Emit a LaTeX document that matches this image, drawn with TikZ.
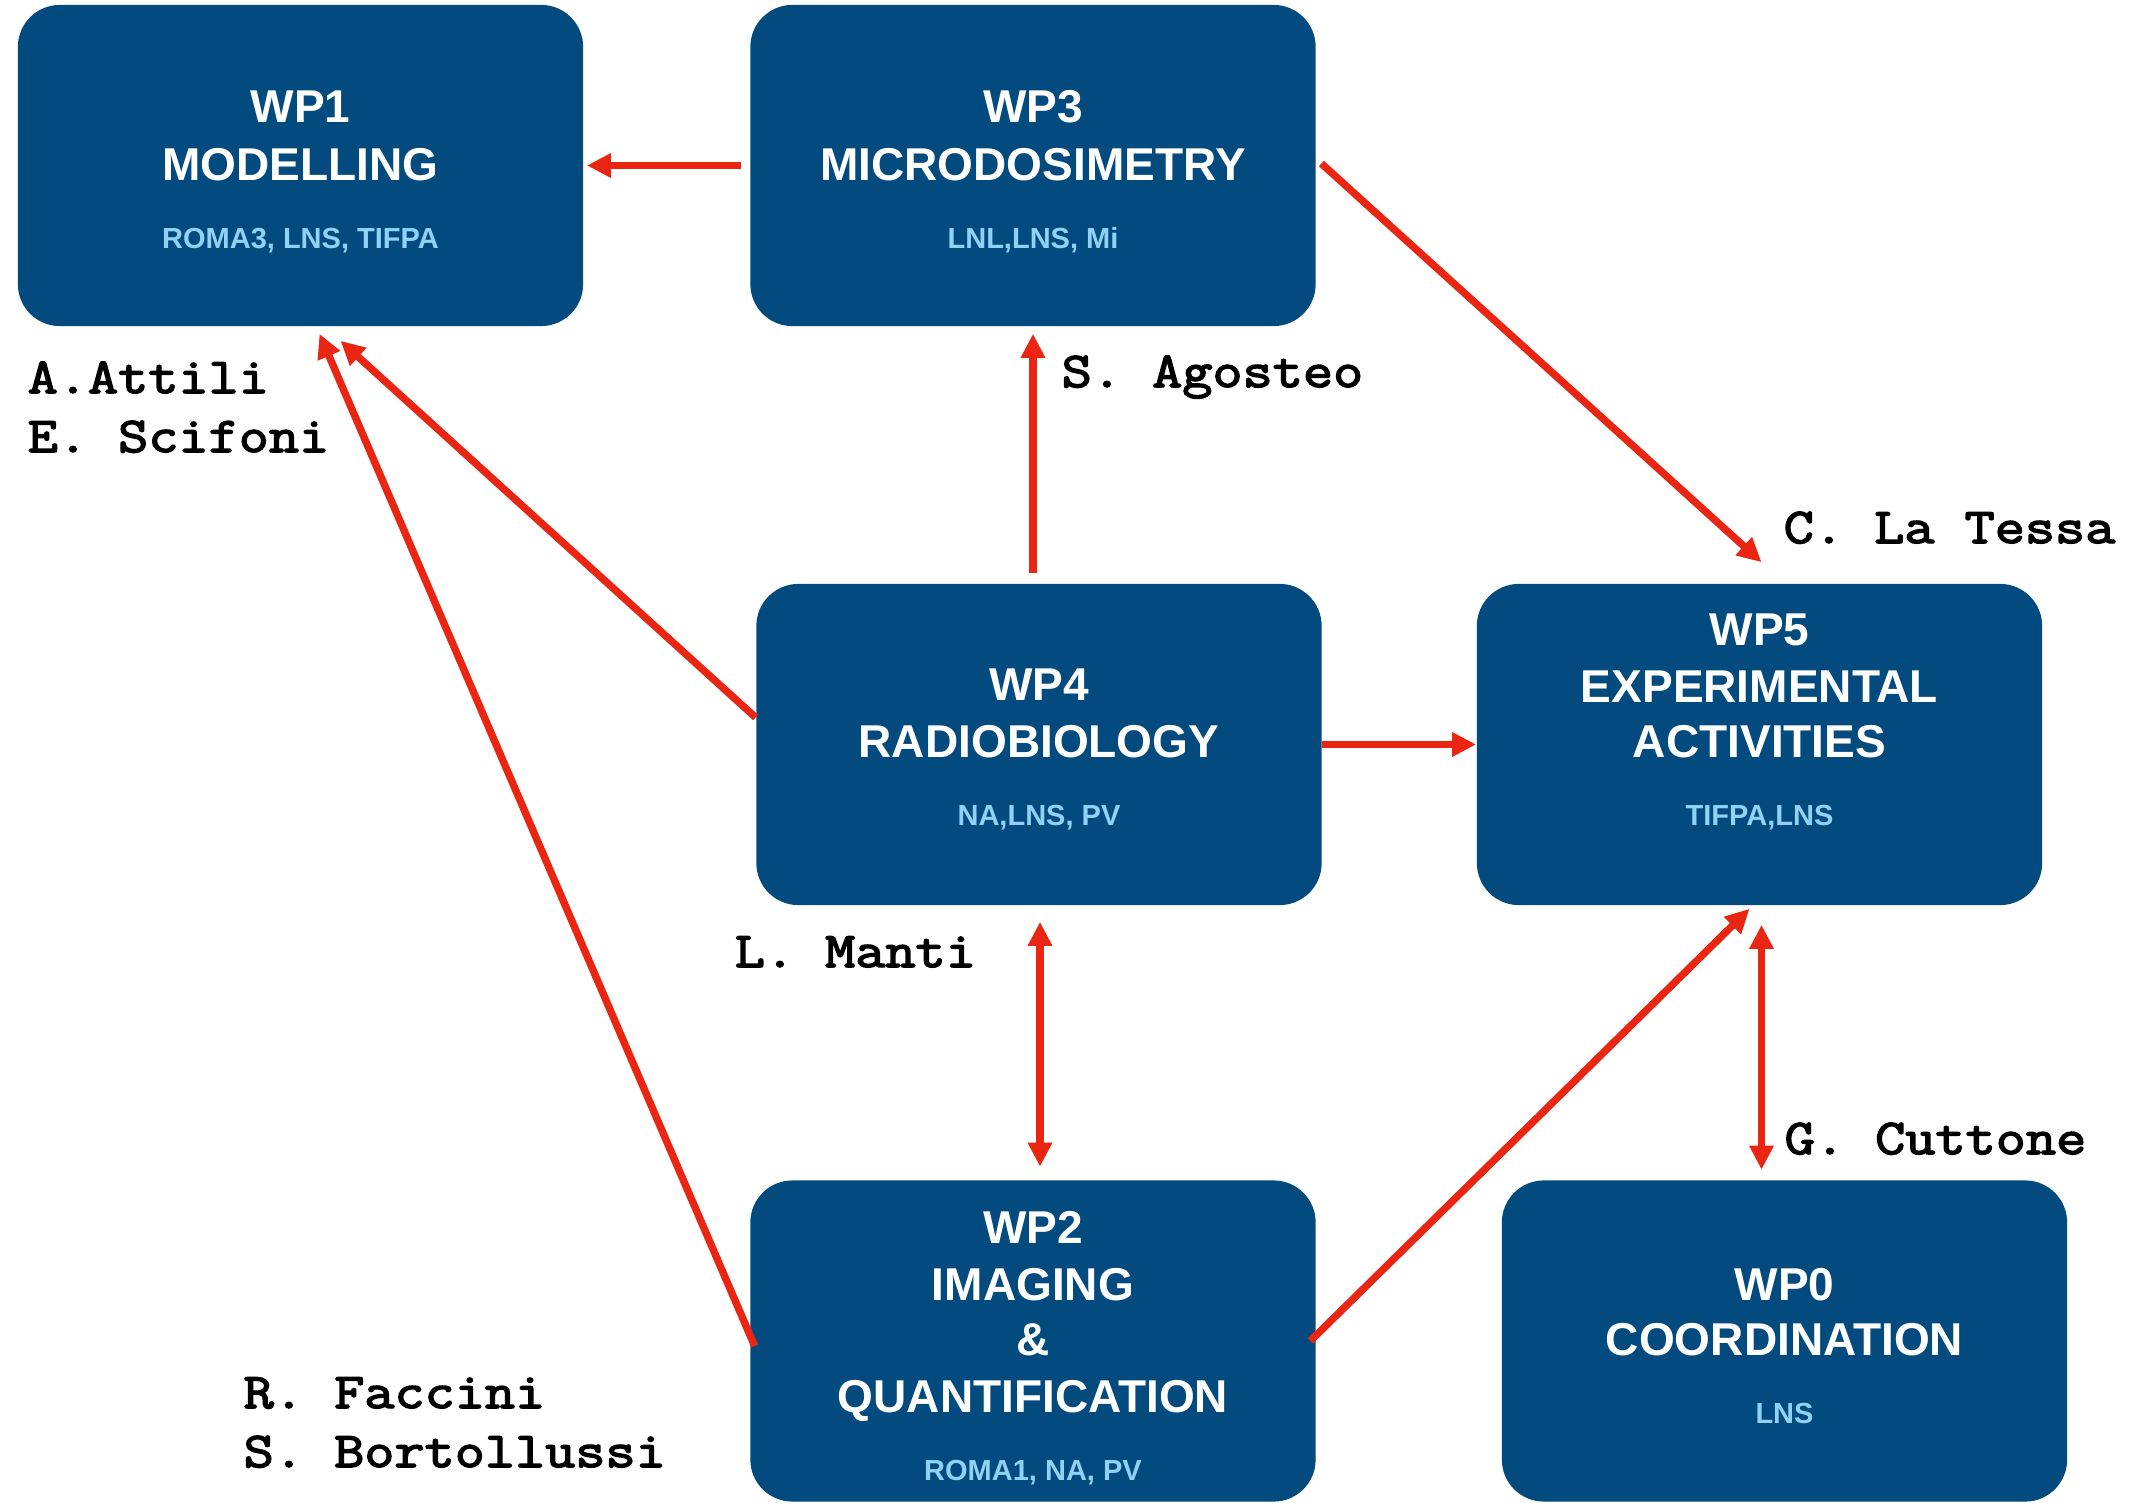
\documentclass[tikz,border=0pt]{standalone}
\usepackage{fontspec}
\setmainfont{Liberation Sans}
\newfontfamily\namefont[FakeBold=3,FakeStretch=1.17]{Latin Modern Mono}
\usetikzlibrary{arrows.meta,calc}
\definecolor{boxblue}{HTML}{034A7E}
\definecolor{subblue}{HTML}{8FD2F6}
\definecolor{arrred}{HTML}{EA2512}
\begin{document}
\begin{tikzpicture}[x=0.01cm,y=-0.01cm,
  wpbox/.style={fill=boxblue,draw=none,rounded corners=0.42cm,minimum width=5.65cm,minimum height=3.21cm,inner sep=0pt},
  ttl/.style={text=white,font=\fontsize{13.09pt}{15pt}\selectfont\bfseries,anchor=base,inner sep=0pt},
  sub/.style={text=subblue,font=\fontsize{8.25pt}{10pt}\selectfont\bfseries,anchor=base,inner sep=0pt},
  who/.style={text=black,font=\namefont\fontsize{14.23pt}{17pt}\selectfont,anchor=base west,inner sep=0pt},
  arr/.style={draw=arrred,line width=2.1pt,-{Triangle[length=0.24cm,width=0.23cm]}},
  darr/.style={draw=arrred,line width=2.1pt,{Triangle[length=0.24cm,width=0.23cm]}-{Triangle[length=0.24cm,width=0.23cm]}}]
\fill[white] (0,0) rectangle (2132,1506);
\useasboundingbox (0,0) rectangle (2132,1506);
% boxes
\node[wpbox] (wp1) at (300.5,165.5) {};
\node[wpbox] (wp3) at (1033,165.5) {};
\node[wpbox] (wp4) at (1039,744.5) {};
\node[wpbox] (wp5) at (1759.5,744.5) {};
\node[wpbox] (wp2) at (1033,1341) {};
\node[wpbox] (wp0) at (1784.5,1341) {};
% box texts
\node[ttl] (t1a) at (300.5,123) {WP1};
\node[ttl] (t1b) at (300.5,180) {MODELLING};
\node[sub] (t1c) at (300.5,248) {ROMA3, LNS, TIFPA};
\node[ttl] (t3a) at (1033,123) {WP3};
\node[ttl] (t3b) at (1033,180) {MICRODOSIMETRY};
\node[sub] (t3c) at (1033,248) {LNL,LNS, Mi};
\node[ttl] (t4a) at (1039,700) {WP4};
\node[ttl] (t4b) at (1039,757) {RADIOBIOLOGY};
\node[sub] (t4c) at (1039,825) {NA,LNS, PV};
\node[ttl] (t5a) at (1759.5,645) {WP5};
\node[ttl] (t5b) at (1759.5,702) {EXPERIMENTAL};
\node[ttl] (t5c) at (1759.5,757) {ACTIVITIES};
\node[sub] (t5d) at (1759.5,825) {TIFPA,LNS};
\node[ttl] (t2a) at (1033,1243) {WP2};
\node[ttl] (t2b) at (1033,1300) {IMAGING};
\node[ttl] (t2c) at (1033,1355) {\&};
\node[ttl] (t2d) at (1033,1412) {QUANTIFICATION};
\node[sub] (t2e) at (1033,1480) {ROMA1, NA, PV};
\node[ttl] (t0a) at (1784.5,1300) {WP0};
\node[ttl] (t0b) at (1784.5,1355) {COORDINATION};
\node[sub] (t0c) at (1784.5,1423) {LNS};
% names
\node[who] (n1) at (27,393) {A.Attili};
\node[who] (n2) at (27,452) {E. Scifoni};
\node[who] (n3) at (1061,387) {S. Agosteo};
\node[who] (n4) at (1783,543) {C. La Tessa};
\node[who] (n5) at (734,967) {L. Manti};
\node[who] (n6) at (1784,1154) {G. Cuttone};
\node[who] (n7) at (243,1408) {R. Faccini};
\node[who] (n8) at (243,1467) {S. Bortollussi};
% connectors
\draw[arr] ($(wp3.west)+(-9,0)$) -- ($(wp1.east)+(3,0)$);
\draw[arr] ($(wp3.east)+(5,-2)$) -- ($(wp5.north)+(2,-21)$);
\draw[arr] ($(wp3.south |- wp4.north)+(0,-10)$) -- ($(wp3.south)+(0,7)$);
\draw[arr] ($(wp4.west)+(0,-27)$) -- ($(wp1.south)+(40,14)$);
\draw[arr] ($(wp2.west)+(5,5)$) -- ($(wp1.south)+(19,7)$);
\draw[arr] (wp4.east) -- (wp5.west);
\draw[darr] ($(wp4.south)+(1,16)$) -- ($(wp4.south |- wp2.north)+(1,-13)$);
\draw[arr] ($(wp2.east)+(-6,0)$) -- ($(wp5.south)+(-10,3)$);
\draw[darr] ($(wp5.south)+(2,19)$) -- ($(wp5.south |- wp0.north)+(2,-10)$);
\end{tikzpicture}
\end{document}
